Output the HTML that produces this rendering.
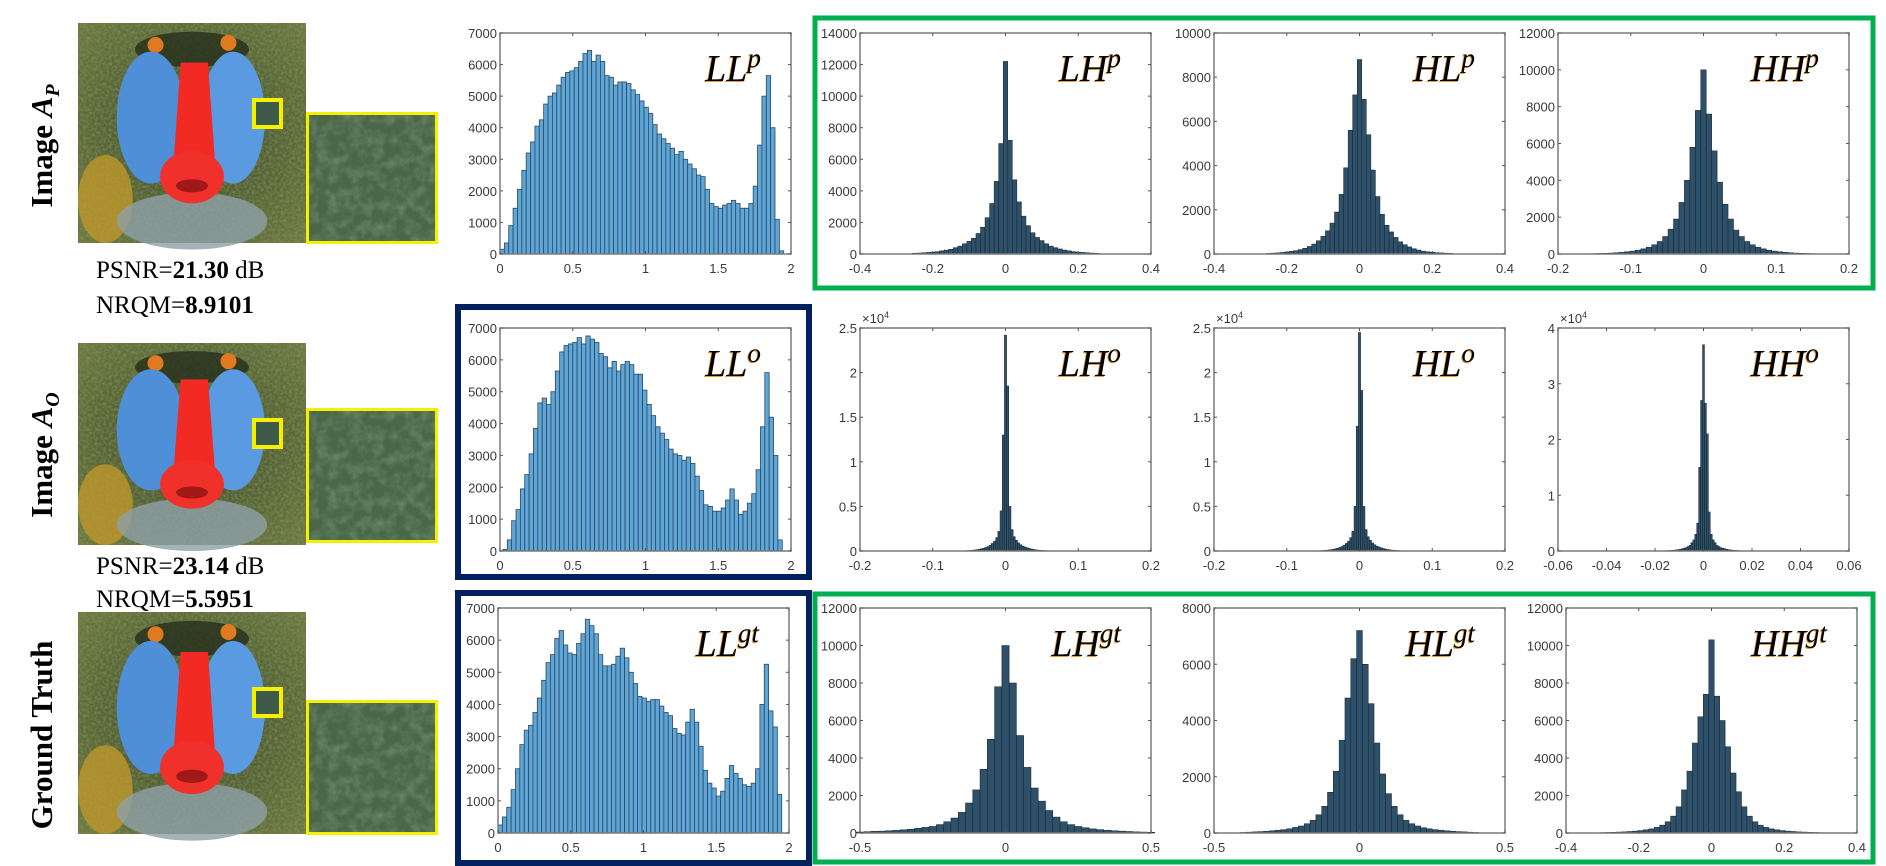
<!DOCTYPE html>
<html><head><meta charset="utf-8">
<style>
html,body{margin:0;padding:0;background:#fff;}
svg{display:block;}
.tk{font-family:"Liberation Sans",sans-serif;font-size:13px;fill:#3a3a3a;}
.rowlab{font-family:"Liberation Serif",serif;font-weight:bold;font-size:31px;fill:#000;}
.metric{font-family:"Liberation Serif",serif;font-size:25px;fill:#000;}
.ptitle{font-family:"Liberation Serif",serif;font-style:italic;font-size:38px;}
</style></head>
<body>
<svg id="fig" width="1886" height="866" viewBox="0 0 1886 866" xmlns="http://www.w3.org/2000/svg">
<defs>
  <filter id="fur" x="0" y="0" width="100%" height="100%">
    <feTurbulence type="fractalNoise" baseFrequency="0.35" numOctaves="2" seed="3" result="n"/>
    <feColorMatrix in="n" type="matrix" values="0 0 0 0 0.22  0 0 0 0 0.30  0 0 0 0 0.14  0 0 0 -1.6 1.05" result="c"/>
    <feComposite in="c" in2="SourceGraphic" operator="in"/>
  </filter>
  <filter id="fur2" x="0" y="0" width="100%" height="100%">
    <feTurbulence type="fractalNoise" baseFrequency="0.09" numOctaves="3" seed="7" result="n"/>
    <feColorMatrix in="n" type="matrix" values="0 0 0 0 0.16  0 0 0 0 0.26  0 0 0 0 0.16  0 0 0 -1.9 1.2" result="c"/>
    <feComposite in="c" in2="SourceGraphic" operator="in"/>
  </filter>
  <radialGradient id="bg" cx="0.5" cy="0.5" r="0.7">
    <stop offset="0" stop-color="#3d4a2a"/><stop offset="1" stop-color="#6f7a3e"/>
  </radialGradient>
</defs>
<g id="boxes"></g>
<g id="images"></g>
<g id="plots"></g>
</svg>
<script>
// ---------- DATA ----------
const llpValues = [0.15,0.35,0.9,1.45,2.05,2.65,3.2,3.55,4.05,4.25,4.75,5.0,5.1,5.35,5.6,5.75,5.8,5.9,6.1,6.35,6.45,6.1,6.3,6.1,5.65,5.6,5.35,5.45,5.45,5.4,5.2,5.05,4.85,4.65,4.45,4.1,3.8,3.65,3.5,3.35,3.15,3.25,3.0,2.85,2.7,2.5,2.45,2.05,1.6,1.5,1.45,1.55,1.6,1.7,1.6,1.45,1.45,1.6,2.15,3.45,5.0,5.65,4.0,1.1,0.1];
const lloValues = [0.05,0.35,0.95,1.3,1.95,2.4,3.05,3.85,4.65,4.8,4.6,5.0,5.65,6.25,6.45,6.5,6.55,6.7,6.5,6.75,6.65,6.55,6.2,6.1,5.75,5.95,5.65,5.85,5.95,5.85,5.55,5.55,5.05,4.6,4.25,3.9,3.7,3.5,3.2,3.05,3.0,2.85,2.95,2.75,2.35,1.9,1.45,1.4,1.25,1.25,1.35,1.6,1.95,1.6,1.15,1.25,1.5,1.8,2.55,3.9,5.6,4.2,3.0,0.35];
const llgtValues = [0.25,0.5,0.8,1.35,2.0,2.75,3.2,3.35,3.75,4.2,4.75,5.3,5.55,6.05,6.3,5.85,5.6,5.55,5.9,6.2,6.65,6.45,6.2,5.55,5.2,5.2,5.25,5.5,5.75,5.45,5.0,4.65,4.25,4.2,4.1,4.15,4.15,3.95,3.75,3.65,3.25,3.1,3.05,3.45,3.85,3.45,2.7,1.95,1.55,1.4,1.15,1.3,1.7,2.1,1.85,1.7,1.5,1.45,1.55,2.0,4.0,5.25,3.8,3.3,1.2];
const lhpValues = [0.05,0.06,0.08,0.1,0.12,0.15,0.2,0.25,0.3,0.4,0.5,0.65,0.8,1.0,1.3,1.7,2.3,3.2,4.6,7.0,12.2,7.2,4.7,3.3,2.4,1.8,1.35,1.05,0.85,0.65,0.5,0.4,0.32,0.25,0.2,0.15,0.12,0.1,0.08,0.06,0.05];
const hlpValues = [0.03,0.04,0.05,0.07,0.09,0.12,0.15,0.2,0.26,0.34,0.45,0.6,0.8,1.05,1.4,1.9,2.7,3.9,5.6,7.2,8.8,7.0,5.4,3.8,2.6,1.8,1.3,1.0,0.75,0.55,0.42,0.32,0.24,0.18,0.13,0.1,0.08,0.06,0.05,0.04,0.03];
const hhpValues = [0.02,0.03,0.04,0.05,0.07,0.09,0.12,0.16,0.21,0.28,0.37,0.5,0.68,0.95,1.35,1.9,2.8,4.0,5.8,7.8,10.0,7.6,5.6,3.9,2.7,1.9,1.3,0.95,0.68,0.5,0.37,0.28,0.21,0.16,0.12,0.09,0.07,0.05,0.04,0.03,0.02];
const lhoValues = [0.002,0.003,0.004,0.005,0.007,0.009,0.012,0.015,0.02,0.025,0.03,0.04,0.05,0.065,0.085,0.11,0.15,0.22,0.45,1.3,2.42,1.85,0.5,0.24,0.16,0.12,0.09,0.07,0.055,0.045,0.035,0.028,0.022,0.017,0.013,0.01,0.008,0.006,0.005,0.004,0.003];
const hloValues = [0.002,0.003,0.004,0.005,0.007,0.009,0.012,0.015,0.02,0.025,0.03,0.04,0.05,0.065,0.085,0.11,0.15,0.22,0.5,1.4,2.45,1.8,0.5,0.24,0.16,0.12,0.09,0.07,0.055,0.045,0.035,0.028,0.022,0.017,0.013,0.01,0.008,0.006,0.005,0.004,0.003];
const hhoValues = [0.005,0.006,0.008,0.01,0.012,0.015,0.02,0.025,0.03,0.04,0.05,0.06,0.08,0.1,0.15,0.2,0.3,0.5,1.5,2.7,3.7,2.65,2.1,0.7,0.3,0.2,0.15,0.1,0.08,0.06,0.05,0.04,0.03,0.025,0.02,0.015,0.012,0.01,0.008,0.006,0.005];
const lhgtValues = [0.05,0.07,0.09,0.1,0.12,0.14,0.17,0.2,0.25,0.3,0.35,0.45,0.6,0.8,1.1,1.6,2.3,3.4,5.0,7.8,10.0,8.0,5.2,3.5,2.4,1.7,1.2,0.85,0.6,0.45,0.35,0.28,0.22,0.18,0.15,0.12,0.1,0.08,0.06,0.05,0.04];
const hlgtValues = [0.02,0.03,0.04,0.05,0.06,0.08,0.1,0.12,0.15,0.2,0.25,0.33,0.45,0.65,0.95,1.45,2.2,3.3,4.8,6.2,7.2,6.0,4.6,3.2,2.1,1.4,0.95,0.65,0.45,0.33,0.25,0.19,0.15,0.12,0.1,0.08,0.06,0.05,0.04,0.03,0.02];
const hhgtValues = [0.02,0.03,0.04,0.05,0.06,0.08,0.1,0.13,0.17,0.22,0.3,0.42,0.6,0.9,1.4,2.3,3.3,4.8,6.2,7.4,10.3,7.3,6.0,4.6,3.2,2.2,1.4,0.9,0.6,0.42,0.3,0.22,0.17,0.13,0.1,0.08,0.06,0.05,0.04,0.03,0.02];
const llXTicks = [0,0.5,1,1.5,2];
const llXTickLabels = ["0","0.5","1","1.5","2"];
const llYTicks = [0,1,2,3,4,5,6,7];
const llYTickLabels = ["0","1000","2000","3000","4000","5000","6000","7000"];
const x04Ticks = [-0.4,-0.2,0,0.2,0.4];
const x04TickLabels = ["-0.4","-0.2","0","0.2","0.4"];
const x02Ticks = [-0.2,-0.1,0,0.1,0.2];
const x02TickLabels = ["-0.2","-0.1","0","0.1","0.2"];
const x05Ticks = [-0.5,0,0.5];
const x05TickLabels = ["-0.5","0","0.5"];
const x006Ticks = [-0.06,-0.04,-0.02,0,0.02,0.04,0.06];
const x006TickLabels = ["-0.06","-0.04","-0.02","0","0.02","0.04","0.06"];
const y14Ticks = [0,2,4,6,8,10,12,14];
const y14TickLabels = ["0","2000","4000","6000","8000","10000","12000","14000"];
const y12Ticks = [0,2,4,6,8,10,12];
const y12TickLabels = ["0","2000","4000","6000","8000","10000","12000"];
const y10Ticks = [0,2,4,6,8,10];
const y10TickLabels = ["0","2000","4000","6000","8000","10000"];
const y8Ticks = [0,2,4,6,8];
const y8TickLabels = ["0","2000","4000","6000","8000"];
const y25Ticks = [0,0.5,1,1.5,2,2.5];
const y25TickLabels = ["0","0.5","1","1.5","2","2.5"];
const y4Ticks = [0,1,2,3,4];
const y4TickLabels = ["0","1","2","3","4"];
const metricPsnr = ["21.30","23.14"];
const metricNrqm = ["8.9101","5.5951"];

// ---------- LAYOUT ----------
const NS="http://www.w3.org/2000/svg";
function mk(tag, attrs, parent){const e=document.createElementNS(NS,tag);for(const k in attrs)e.setAttribute(k,attrs[k]);parent.appendChild(e);return e;}
const boxes=document.getElementById('boxes'), images=document.getElementById('images'), plots=document.getElementById('plots');

// highlight boxes
const boxDefs=[
 {n:'green-box-row1',x:815,y:18,w:1058,h:270,c:'#00b050',s:5},
 {n:'green-box-row3',x:815,y:594,w:1058,h:268,c:'#00b050',s:5},
 {n:'blue-box-row2',x:458,y:307,w:351,h:270,c:'#002060',s:6},
 {n:'blue-box-row3',x:458,y:593,w:351,h:270,c:'#002060',s:6}];
boxDefs.forEach(b=>{
 const r=mk('rect',{x:b.x,y:b.y,width:b.w,height:b.h,fill:'none',stroke:b.c,'stroke-width':b.s},boxes);
 
 
});

// baboon images
function baboon(ox,oy,w,h,name){
 const g=mk('g',{transform:`translate(${ox},${oy})`},images);
 
 
 mk('rect',{x:0,y:0,width:w,height:h,fill:'url(#bg)'},g);
 mk('rect',{x:0,y:0,width:w,height:h,fill:'#fff',filter:'url(#fur)',opacity:0.8},g);
 mk('ellipse',{cx:w*0.12,cy:h*0.8,rx:w*0.12,ry:h*0.2,fill:'#c49a2a',opacity:0.75},g);
 mk('ellipse',{cx:w*0.5,cy:h*0.9,rx:w*0.33,ry:h*0.13,fill:'#8fa0a8',opacity:0.8},g);
 mk('ellipse',{cx:w*0.5,cy:h*0.12,rx:w*0.25,ry:h*0.08,fill:'#25301c',opacity:0.8},g);
 mk('circle',{cx:w*0.34,cy:h*0.1,r:8,fill:'#e07a20'},g);
 mk('circle',{cx:w*0.66,cy:h*0.09,r:8,fill:'#e07a20'},g);
 mk('ellipse',{cx:w*0.32,cy:h*0.43,rx:w*0.15,ry:h*0.3,fill:'#4f8fd8'},g);
 mk('ellipse',{cx:w*0.68,cy:h*0.43,rx:w*0.14,ry:h*0.3,fill:'#5a9ae0'},g);
 mk('path',{d:`M${w*0.45},${h*0.18} L${w*0.57},${h*0.18} L${w*0.6},${h*0.62} L${w*0.42},${h*0.62} Z`,fill:'#f22a24'},g);
 mk('ellipse',{cx:w*0.5,cy:h*0.7,rx:w*0.14,ry:h*0.12,fill:'#f0302a'},g);
 mk('ellipse',{cx:w*0.5,cy:h*0.74,rx:w*0.07,ry:h*0.03,fill:'#a01818'},g);
 mk('rect',{x:176,y:77,width:27,height:27,fill:'#3e5a4a',stroke:'#f4f000','stroke-width':4},g);
}
function crop(ox,oy,w,h,name){
 const g=mk('g',{transform:`translate(${ox},${oy})`},images);
 
 
 mk('rect',{x:0,y:0,width:w,height:h,fill:'#4a6848'},g);
 mk('rect',{x:0,y:0,width:w,height:h,fill:'#fff',filter:'url(#fur2)',opacity:0.85},g);
 mk('rect',{x:1.5,y:1.5,width:w-3,height:h-3,fill:'none',stroke:'#f4f000','stroke-width':3},g);
}
const imgRows=[{y:23,cy:112,lab:'rowA'},{y:343,cy:408,lab:'rowB'},{y:612,cy:700,lab:'rowC'}];
baboon(78,23,228,220,'image-ap');
baboon(78,343,228,202,'image-ao');
baboon(78,612,228,222,'image-gt');
crop(306,112,132,132,'zoom-crop-ap');
crop(306,408,132,135,'zoom-crop-ao');
crop(306,700,132,135,'zoom-crop-gt');

// row labels
function rowLabel(cy,html,name){
 const t=mk('text',{class:'rowlab',transform:`translate(52,${cy}) rotate(-90)`,'text-anchor':'middle'},images);
 t.innerHTML=html;
 
 
}
rowLabel(146,'Image <tspan font-style="italic">A</tspan><tspan font-style="italic" font-size="20" dy="7">P</tspan>','row-label-image-ap');
rowLabel(455,'Image <tspan font-style="italic">A</tspan><tspan font-style="italic" font-size="20" dy="7">O</tspan>','row-label-image-ao');
rowLabel(735,'Ground Truth','row-label-ground-truth');

// metrics
[[278,313,0],[574,607,1]].forEach(([y1,y2,i])=>{
 const a=mk('text',{class:'metric',x:96,y:y1},images);
 a.innerHTML=`PSNR=<tspan font-weight="bold">${metricPsnr[i]}</tspan> dB`;
 
 
 const b=mk('text',{class:'metric',x:96,y:y2},images);
 b.innerHTML=`NRQM=<tspan font-weight="bold">${metricNrqm[i]}</tspan>`;
 
 
});

// ---------- PLOTS ----------
function hist(cfg){
 const {name,x0,y0,w,h,xmin,xmax,ymax,vals,start,bw,xt,xtl,yt,ytl,title,sup,light,exp}=cfg;
 const g=mk('g',{},plots);
 
 
 const sx=v=>x0+(v-xmin)/(xmax-xmin)*w;
 const sy=v=>y0+h-(v/ymax)*h;
 mk('rect',{x:x0,y:y0,width:w,height:h,fill:'#fff'},g);
 vals.forEach((v,i)=>{
  const xa=sx(start+i*bw), xb=sx(start+(i+1)*bw);
  const r=mk('rect',{x:xa,y:sy(v),width:Math.max(xb-xa,0.6),height:y0+h-sy(v),
   fill:light?'#5ea5d8':'#2e5069',stroke:light?'#2c4860':'#13232f','stroke-width':light?0.8:0.5},g);
  
  
 });
 mk('rect',{x:x0,y:y0,width:w,height:h,fill:'none',stroke:'#7a7a7a','stroke-width':1.5},g);
 xt.forEach((t,i)=>{
  const x=sx(t);
  mk('line',{x1:x,x2:x,y1:y0+h,y2:y0+h-3,stroke:'#555'},g);
  mk('line',{x1:x,x2:x,y1:y0,y2:y0+3,stroke:'#555'},g);
  const tx=mk('text',{class:'tk',x:x,y:y0+h+19,'text-anchor':'middle'},g);
  tx.textContent=xtl[i];
  
  
 });
 yt.forEach((t,i)=>{
  const y=sy(t);
  mk('line',{x1:x0,x2:x0+3,y1:y,y2:y,stroke:'#555'},g);
  mk('line',{x1:x0+w,x2:x0+w-3,y1:y,y2:y,stroke:'#555'},g);
  const ty=mk('text',{class:'tk',x:x0-3,y:y+5,'text-anchor':'end'},g);
  ty.textContent=ytl[i];
  
  
 });
 if(exp){
  const e=mk('text',{class:'tk',x:x0+2,y:y0-5},g);
  e.innerHTML='×10<tspan font-size="9" dy="-5">4</tspan>';
  
  
 }
 const mkTitle=(dx,dy,fill)=>{
  const t=mk('text',{class:'ptitle',x:x0+w-30+dx,y:y0+48+dy,'text-anchor':'end',fill:fill},g);
  t.innerHTML=`${title}<tspan font-size="27" dy="-14">${sup}</tspan>`;
  return t;
 };
 mkTitle(-1,1,'#e29a3a');
 const tt=mkTitle(0,0,'#000');
 
 
}
const R1={y:33,h:221}, R2={y:328,h:223}, R3={y:608,h:225};
const CL=500, CLH=860, CHL=1214, CHH=1558, PW=291;
hist({name:'hist-ll-p',x0:CL,y0:R1.y,w:PW,h:R1.h,xmin:0,xmax:2,ymax:7,vals:llpValues,start:0,bw:0.03,xt:llXTicks,xtl:llXTickLabels,yt:llYTicks,ytl:llYTickLabels,title:'LL',sup:'p',light:true});
hist({name:'hist-lh-p',x0:CLH,y0:R1.y,w:PW,h:R1.h,xmin:-0.4,xmax:0.4,ymax:14,vals:lhpValues,start:-0.25625,bw:0.0125,xt:x04Ticks,xtl:x04TickLabels,yt:y14Ticks,ytl:y14TickLabels,title:'LH',sup:'p'});
hist({name:'hist-hl-p',x0:CHL,y0:R1.y,w:PW,h:R1.h,xmin:-0.4,xmax:0.4,ymax:10,vals:hlpValues,start:-0.25625,bw:0.0125,xt:x04Ticks,xtl:x04TickLabels,yt:y10Ticks,ytl:y10TickLabels,title:'HL',sup:'p'});
hist({name:'hist-hh-p',x0:CHH,y0:R1.y,w:PW,h:R1.h,xmin:-0.2,xmax:0.2,ymax:12,vals:hhpValues,start:-0.15375,bw:0.0075,xt:x02Ticks,xtl:x02TickLabels,yt:y12Ticks,ytl:y12TickLabels,title:'HH',sup:'p'});
hist({name:'hist-ll-o',x0:CL,y0:R2.y,w:PW,h:R2.h,xmin:0,xmax:2,ymax:7,vals:lloValues,start:0.02,bw:0.03,xt:llXTicks,xtl:llXTickLabels,yt:llYTicks,ytl:llYTickLabels,title:'LL',sup:'o',light:true});
hist({name:'hist-lh-o',x0:CLH,y0:R2.y,w:PW,h:R2.h,xmin:-0.2,xmax:0.2,ymax:2.5,vals:lhoValues,start:-0.0615,bw:0.003,xt:x02Ticks,xtl:x02TickLabels,yt:y25Ticks,ytl:y25TickLabels,title:'LH',sup:'o',exp:true});
hist({name:'hist-hl-o',x0:CHL,y0:R2.y,w:PW,h:R2.h,xmin:-0.2,xmax:0.2,ymax:2.5,vals:hloValues,start:-0.0615,bw:0.003,xt:x02Ticks,xtl:x02TickLabels,yt:y25Ticks,ytl:y25TickLabels,title:'HL',sup:'o',exp:true});
hist({name:'hist-hh-o',x0:CHH,y0:R2.y,w:PW,h:R2.h,xmin:-0.06,xmax:0.06,ymax:4,vals:hhoValues,start:-0.0164,bw:0.0008,xt:x006Ticks,xtl:x006TickLabels,yt:y4Ticks,ytl:y4TickLabels,title:'HH',sup:'o',exp:true});
hist({name:'hist-ll-gt',x0:CL-2,y0:R3.y,w:PW,h:R3.h,xmin:0,xmax:2,ymax:7,vals:llgtValues,start:0,bw:0.03,xt:llXTicks,xtl:llXTickLabels,yt:llYTicks,ytl:llYTickLabels,title:'LL',sup:'gt',light:true});
hist({name:'hist-lh-gt',x0:CLH,y0:R3.y,w:PW,h:R3.h,xmin:-0.5,xmax:0.5,ymax:12,vals:lhgtValues,start:-0.5125,bw:0.025,xt:x05Ticks,xtl:x05TickLabels,yt:y12Ticks,ytl:y12TickLabels,title:'LH',sup:'gt'});
hist({name:'hist-hl-gt',x0:CHL,y0:R3.y,w:PW,h:R3.h,xmin:-0.5,xmax:0.5,ymax:8,vals:hlgtValues,start:-0.41,bw:0.02,xt:x05Ticks,xtl:x05TickLabels,yt:y8Ticks,ytl:y8TickLabels,title:'HL',sup:'gt'});
hist({name:'hist-hh-gt',x0:CHH+8,y0:R3.y,w:PW,h:R3.h,xmin:-0.4,xmax:0.4,ymax:12,vals:hhgtValues,start:-0.3075,bw:0.015,xt:x04Ticks,xtl:x04TickLabels,yt:y12Ticks,ytl:y12TickLabels,title:'HH',sup:'gt'});
</script>
</body></html>
